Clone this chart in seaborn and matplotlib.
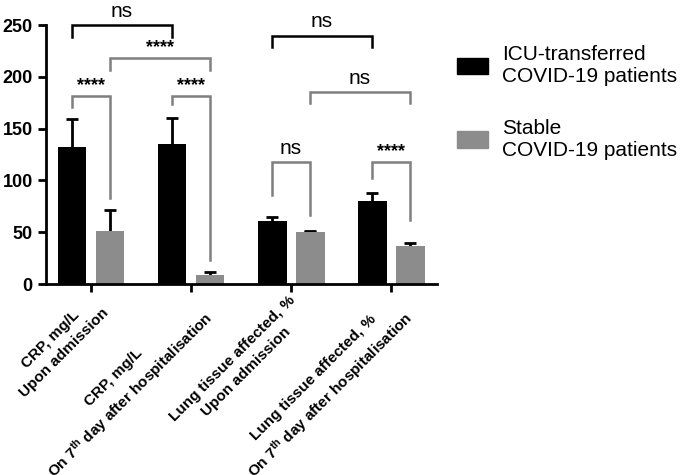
import pandas as pd
import matplotlib.pyplot as plt
import matplotlib.transforms as mtrans
import numpy as np
import seaborn as sb
from matplotlib.patches import Patch

# values
categories = ['CRP, mg/L\nUpon admission',
              'CRP, mg/L\nOn 7$^{th}$ day after hospitalisation',
              'Lung tissue affected, %\nUpon admission',
              'Lung tissue affected, %\nOn 7$^{th}$ day after hospitalisation']
groups = ['ICU-transferred\nCOVID-19 patients', 'Stable\nCOVID-19 patients']
icu_mean = [132.5, 135, 61, 80.5]
icu_err = [26.5, 25.5, 4, 7]
stable_mean = [51.5, 8.7, 50.5, 37]
stable_err = [20, 3.2, 0.6, 3]

# brackets: (group a, bar a, group b, bar b, height, leg a, leg b, text, colour)
# bar index 0 = ICU bar, 1 = stable bar
brackets = [
    (0, 0, 1, 0, 250, 239, 239, 'ns', 'black'),
    (0, 1, 1, 1, 218, 207, 207, '****', 'grey'),
    (0, 0, 0, 1, 181.5, 171, 83, '****', 'grey'),
    (1, 0, 1, 1, 181.5, 174, 23, '****', 'grey'),
    (2, 0, 3, 0, 240, 229, 229, 'ns', 'black'),
    (2, 1, 3, 1, 185, 175, 175, 'ns', 'grey'),
    (2, 0, 2, 1, 117.5, 86, 67, 'ns', 'grey'),
    (3, 0, 3, 1, 117.5, 102, 62, '****', 'grey'),
]

colors = ['#000000', '#8c8c8c']

df = pd.DataFrame({
    'measure': categories * 2,
    'group': [groups[0]] * 4 + [groups[1]] * 4,
    'value': icu_mean + stable_mean,
})

plt.rcParams['font.family'] = ['Liberation Sans', 'DejaVu Sans']
plt.rcParams['mathtext.fontset'] = 'custom'
plt.rcParams['mathtext.rm'] = 'Liberation Sans:bold'
plt.rcParams['mathtext.it'] = 'Liberation Sans:bold'

fig = plt.figure(figsize=(6.83, 4.75), dpi=100)
ax = fig.add_axes([0.0673, 0.402, 0.5727, 0.545])

sb.barplot(data=df, x='measure', y='value', hue='group', order=categories,
           hue_order=groups, palette=colors, width=0.76, gap=0.24,
           errorbar=None, saturation=1, legend=False, ax=ax, zorder=2)

# error bars, drawn behind the bars so only the upper half shows
centers = []
for cont, err in zip(ax.containers, [icu_err, stable_err]):
    xs = [p.get_x() + p.get_width() / 2 for p in cont.patches]
    hs = [p.get_height() for p in cont.patches]
    centers.append(xs)
    ax.errorbar(xs, hs, yerr=err, fmt='none', ecolor='black',
                elinewidth=2, capsize=4, capthick=2, zorder=1)

# significance brackets
for ga, ba, gb, bb, h, la, lb, txt, col in brackets:
    xa = centers[ba][ga]
    xb = centers[bb][gb]
    lc = 'black' if col == 'black' else '#7f7f7f'
    ax.plot([xa, xa, xb, xb], [la, h, h, lb], color=lc, lw=1.8,
            clip_on=False, solid_joinstyle='miter')
    if txt == 'ns':
        ax.text((xa + xb) / 2, h + 4, txt, ha='center', va='bottom',
                fontsize=15, clip_on=False)
    else:
        ax.text((xa + xb) / 2, h + 2, txt, ha='center', va='bottom',
                fontsize=13, fontweight='bold', clip_on=False)

ax.set_ylim(0, 250)
ax.set_xlim(-0.45, 3.46)
ax.set_yticks([0, 50, 100, 150, 200, 250])
ax.set_xlabel('')
ax.set_ylabel('')
sb.despine(ax=ax)
for s in ['left', 'bottom']:
    ax.spines[s].set_linewidth(2)
ax.tick_params(axis='both', width=2, length=6, labelsize=13)
ax.tick_params(axis='x', pad=1)
for lab in ax.get_yticklabels():
    lab.set_fontweight('bold')
ax.set_xticks(range(4))
ax.set_xticklabels(categories, rotation=45, ha='right', va='top',
                   rotation_mode='anchor', multialignment='center',
                   fontsize=11, fontweight='bold', linespacing=1.45)
# nudge the slanted labels a little
shift = mtrans.ScaledTranslation(-0.03, 0.01, fig.dpi_scale_trans)
for lab in ax.get_xticklabels():
    lab.set_transform(lab.get_transform() + shift)

handles = [Patch(facecolor=c, edgecolor=c) for c in colors]
fig.legend(handles, groups, loc='upper left', bbox_to_anchor=(0.657, 0.922),
           frameon=False, fontsize=15, handlelength=1.5, handleheight=0.82,
           handletextpad=0.67, labelspacing=1.55, borderaxespad=0)

fig.savefig('out.png', dpi=100)
